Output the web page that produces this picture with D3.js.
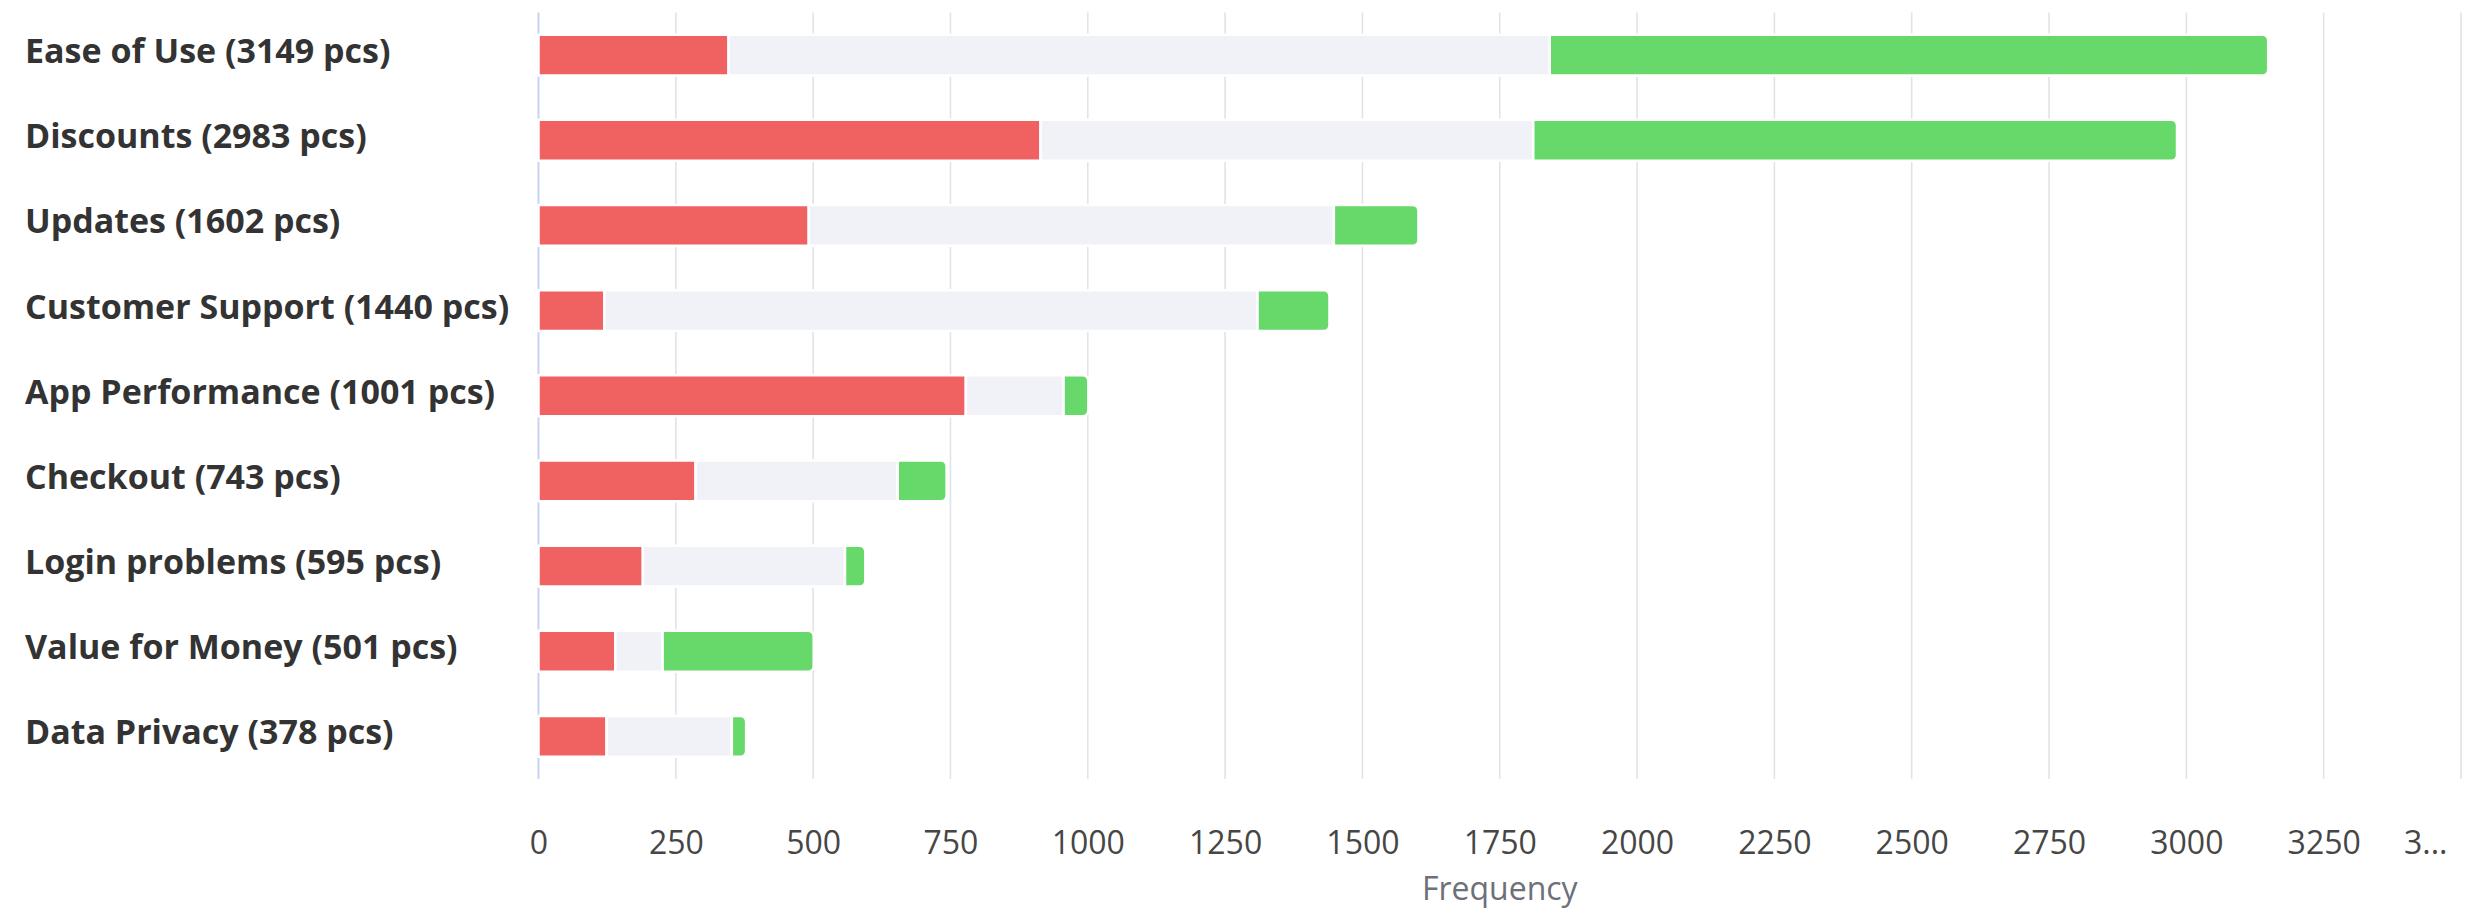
<!DOCTYPE html>
<html>
<head>
<meta charset="utf-8">
<script src="https://cdn.jsdelivr.net/npm/d3@7"></script>
<style>
  html, body { margin: 0; padding: 0; background: #ffffff; }
  svg { display: block; }
</style>
</head>
<body>
<svg id="chart" width="2469" height="924"></svg>
<script>
// Feedback topics, with negative / neutral / positive mention counts
const categories = ["Ease of Use", "Discounts", "Updates", "Customer Support", "App Performance", "Checkout", "Login problems", "Value for Money", "Data Privacy"];
const negative = [346, 914, 492, 120, 778, 286, 190, 140, 124];
const neutral  = [1495, 897, 956, 1189, 178, 368, 368, 86, 228];
const positive = [1308, 1172, 154, 131, 45, 89, 37, 275, 26];
const seriesNames = ["Negative", "Neutral", "Positive"];
const seriesColors = ["#F06262", "#F1F2F7", "#67D96B"];
const xTicks = [0, 250, 500, 750, 1000, 1250, 1500, 1750, 2000, 2250, 2500, 2750, 3000, 3250, 3500];
const xAxisName = "Frequency";

const W = 2469, H = 924;
const plot = { left: 538.5, right: 2461, top: 12.5, bottom: 779 };
const fontFamily = "'Open Sans', 'Noto Sans', 'DejaVu Sans', sans-serif";

const svg = d3.select("#chart");

const rows = categories.map((c, i) => ({
  category: c,
  values: [negative[i], neutral[i], positive[i]],
  total: negative[i] + neutral[i] + positive[i]
}));

const x = d3.scaleLinear().domain([0, d3.max(xTicks)]).range([plot.left, plot.right]);
const y = d3.scaleBand().domain(categories).range([plot.top, plot.bottom])
  .paddingInner(0.52).paddingOuter(0.26);

// vertical grid lines
svg.append("g").attr("class", "grid")
  .selectAll("line").data(xTicks.filter(d => d > 0)).join("line")
  .attr("x1", d => x(d)).attr("x2", d => x(d))
  .attr("y1", plot.top).attr("y2", plot.bottom)
  .attr("stroke", "#E2E3E8").attr("stroke-width", 1.6);

// category axis line
svg.append("line")
  .attr("x1", x(0)).attr("x2", x(0))
  .attr("y1", plot.top).attr("y2", plot.bottom)
  .attr("stroke", "#C9D3EB").attr("stroke-width", 2);

// stacked segments
const stack = d3.stack().keys([0, 1, 2]).value((d, k) => d.values[k]);
const layers = stack(rows);
const r = 6;

function roundedRight(x0, x1, y0, h) {
  const w = Math.max(0, x1 - x0);
  const rr = Math.min(r, w / 2, h / 2);
  return `M${x0},${y0}H${x1 - rr}Q${x1},${y0} ${x1},${y0 + rr}V${y0 + h - rr}Q${x1},${y0 + h} ${x1 - rr},${y0 + h}H${x0}Z`;
}

layers.forEach((layer, k) => {
  const g = svg.append("g").attr("class", "series-" + seriesNames[k].toLowerCase());
  const isLast = k === layers.length - 1;
  g.selectAll("path").data(layer).join("path")
    .attr("d", d => {
      const x0 = x(d[0]), x1 = x(d[1]), y0 = y(d.data.category), h = y.bandwidth();
      return isLast ? roundedRight(x0, x1, y0, h)
                    : `M${x0},${y0}H${x1}V${y0 + h}H${x0}Z`;
    })
    .attr("fill", seriesColors[k])
    .attr("stroke", "#ffffff")
    .attr("stroke-width", 2.5);
});

// category labels with totals
svg.append("g").attr("class", "y-labels")
  .selectAll("text").data(rows).join("text")
  .attr("x", 25)
  .attr("y", d => y(d.category) + y.bandwidth() / 2 - 5)
  .attr("dominant-baseline", "central")
  .attr("font-family", fontFamily)
  .attr("font-weight", 700)
  .attr("font-size", 34)
  .attr("fill", "#333333")
  .text(d => `${d.category} (${d.total} pcs)`);

// value axis labels
const xAxis = d3.axisBottom(x).tickValues(xTicks).tickFormat(d3.format("d")).tickSize(0).tickPadding(0);
const axisG = svg.append("g").attr("transform", `translate(0,${plot.bottom})`).call(xAxis);
axisG.select(".domain").remove();
axisG.selectAll("text")
  .attr("y", 64).attr("dy", "0.35em")
  .attr("font-family", fontFamily)
  .attr("font-size", 32)
  .attr("fill", "#464646");

// truncate any label that would run past the right edge
axisG.selectAll(".tick text").each(function (d) {
  const t = d3.select(this);
  const w = this.getComputedTextLength();
  if (x(d) + w / 2 > W - 2) {
    t.text(String(d).slice(0, 1) + "...")
     .attr("text-anchor", "end")
     .attr("x", -14);
  }
});

// axis name
svg.append("text")
  .attr("x", (plot.left + plot.right) / 2)
  .attr("y", 900)
  .attr("text-anchor", "middle")
  .attr("font-family", fontFamily)
  .attr("font-size", 32)
  .attr("fill", "#6E7079")
  .text(xAxisName);
</script>
</body>
</html>
